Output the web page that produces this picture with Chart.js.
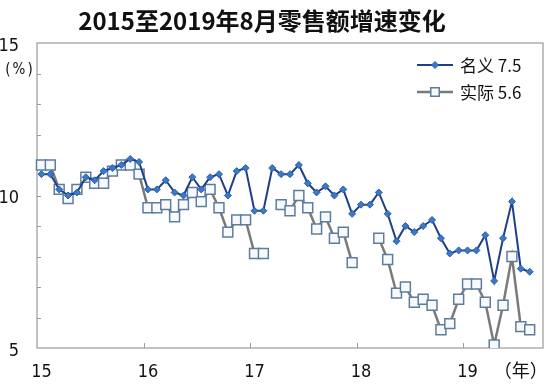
<!DOCTYPE html>
<html>
<head>
<meta charset="utf-8">
<script src="https://cdn.jsdelivr.net/npm/chart.js@4.4.1/dist/chart.umd.min.js"></script>
<style>
  html, body { margin: 0; padding: 0; background: #fff; }
</style>
</head>
<body>
<canvas id="retailChart" width="558" height="389"></canvas>
<script>
// month categories, Jan 2015 .. Sep 2019 (last one left empty)
var months = [
  '15-01','15-02','15-03','15-04','15-05','15-06','15-07','15-08','15-09','15-10','15-11','15-12',
  '16-01','16-02','16-03','16-04','16-05','16-06','16-07','16-08','16-09','16-10','16-11','16-12',
  '17-01','17-02','17-03','17-04','17-05','17-06','17-07','17-08','17-09','17-10','17-11','17-12',
  '18-01','18-02','18-03','18-04','18-05','18-06','18-07','18-08','18-09','18-10','18-11','18-12',
  '19-01','19-02','19-03','19-04','19-05','19-06','19-07','19-08','19-09'
];

// 名义 growth (%)
var nominal = [
  10.7, 10.7, 10.2, 10.0, 10.1, 10.6, 10.5, 10.8, 10.9, 11.0, 11.2, 11.1,
  10.2, 10.2, 10.5, 10.1, 10.0, 10.6, 10.2, 10.6, 10.7, 10.0, 10.8, 10.9,
  9.5, 9.5, 10.9, 10.7, 10.7, 11.0, 10.4, 10.1, 10.3, 10.0, 10.2, 9.4,
  9.7, 9.7, 10.1, 9.4, 8.5, 9.0, 8.8, 9.0, 9.2, 8.6, 8.1, 8.2,
  8.2, 8.2, 8.7, 7.2, 8.6, 9.8, 7.6, 7.5, null
];

// 实际 growth (%), gaps where no value is shown
var real = [
  11.0, 11.0, 10.2, 9.9, 10.2, 10.6, 10.4, 10.4, 10.8, 11.0, 11.0, 10.7,
  9.6, 9.6, 9.7, 9.3, 9.7, 10.1, 9.8, 10.2, 9.6, 8.8, 9.2, 9.2,
  8.1, 8.1, null, 9.7, 9.5, 10.0, 9.6, 8.9, 9.3, 8.6, 8.8, 7.8,
  null, null, 8.6, 7.9, 6.8, 7.0, 6.5, 6.6, 6.4, 5.6, 5.8, 6.6,
  7.1, 7.1, 6.5, 5.1, 6.4, 8.0, 5.7, 5.6, null
];

var seriesNames = ['名义 7.5', '实际 5.6'];
var yearLabels = ['15', '16', '17', '18', '19'];
var yearUnit = '（年）';
var unitIndex = 54;
var yLabels = [5, 10, 15];
var titleText = '2015至2019年8月零售额增速变化';

var numFont = "'Liberation Sans Narrow', 'DejaVu Sans Condensed', 'Noto Sans CJK SC', sans-serif";
var cjkFont = "'Noto Sans CJK SC', sans-serif";

var blueLine = '#1f3f88';
var bluePoint = '#3a78c8';
var grayLine = '#7a7a7a';
var squareEdge = '#5e7d9c';
var squareFill = '#f6f9fd';
var frameColor = '#9a9a9a';

// frame, inward ticks, title and legend
var decorations = {
  id: 'decorations',
  beforeDatasetsDraw: function (chart) {
    var ctx = chart.ctx;
    var area = chart.chartArea;
    var xs = chart.scales.x;
    var ys = chart.scales.y;
    ctx.save();
    ctx.strokeStyle = frameColor;
    ctx.lineWidth = 1.2;
    ctx.strokeRect(area.left, area.top, area.right - area.left, area.bottom - area.top);
    ctx.lineWidth = 1;
    for (var v = 6; v < 15; v++) {
      var y = Math.round(ys.getPixelForValue(v)) + 0.5;
      ctx.beginPath();
      ctx.moveTo(area.left, y);
      ctx.lineTo(area.left + 4, y);
      ctx.stroke();
    }
    for (var k = 1; k < yearLabels.length; k++) {
      var x = (xs.getPixelForValue(12 * k) + xs.getPixelForValue(12 * k - 1)) / 2;
      x = Math.round(x) + 0.5;
      ctx.beginPath();
      ctx.moveTo(x, area.bottom);
      ctx.lineTo(x, area.bottom - 5);
      ctx.stroke();
    }
    ctx.restore();
  },
  afterDraw: function (chart) {
    var ctx = chart.ctx;
    ctx.save();
    ctx.fillStyle = '#111';
    ctx.textBaseline = 'middle';
    ctx.textAlign = 'center';
    ctx.font = 'bold 24px ' + cjkFont;
    ctx.fillText(titleText, 262, 21);

    ctx.font = '15px ' + numFont;
    ctx.letterSpacing = '2px';
    ctx.fillText('(%)', 20, 70);
    ctx.letterSpacing = '0px';

    // legend
    var ds = chart.data.datasets;
    var rows = [65, 92];
    for (var i = 0; i < ds.length; i++) {
      var y = rows[i];
      ctx.strokeStyle = ds[i].borderColor;
      ctx.lineWidth = ds[i].borderWidth;
      ctx.beginPath();
      ctx.moveTo(417, y);
      ctx.lineTo(453, y);
      ctx.stroke();
      ctx.fillStyle = ds[i].pointBackgroundColor;
      ctx.strokeStyle = ds[i].pointBorderColor;
      ctx.lineWidth = ds[i].pointBorderWidth;
      Chart.helpers.drawPoint(ctx, {
        pointStyle: ds[i].pointStyle,
        radius: i === 0 ? 3.5 : 6,
        rotation: 0,
        borderWidth: ds[i].pointBorderWidth
      }, 435, y);
      ctx.fillStyle = '#111';
      ctx.textAlign = 'left';
      ctx.font = '17px ' + cjkFont;
      ctx.fillText(seriesNames[i], 460, y + 1);
    }
    ctx.restore();
  }
};

var retailChart = new Chart(document.getElementById('retailChart'), {
  type: 'line',
  data: {
    labels: months,
    datasets: [
      {
        label: seriesNames[0],
        data: nominal,
        borderColor: blueLine,
        borderWidth: 2,
        pointStyle: 'rectRot',
        pointRadius: 3.5,
        pointBackgroundColor: bluePoint,
        pointBorderColor: '#2b5fa8',
        pointBorderWidth: 1,
        tension: 0,
        spanGaps: false
      },
      {
        label: seriesNames[1],
        data: real,
        borderColor: grayLine,
        borderWidth: 2.5,
        pointStyle: 'rect',
        pointRadius: 7,
        pointBackgroundColor: squareFill,
        pointBorderColor: squareEdge,
        pointBorderWidth: 1.5,
        tension: 0,
        spanGaps: false
      }
    ]
  },
  options: {
    responsive: false,
    animation: false,
    devicePixelRatio: 1,
    layout: { padding: { top: 43, right: 15, left: 0, bottom: 0 } },
    plugins: {
      legend: { display: false },
      tooltip: { enabled: false },
      title: { display: false }
    },
    scales: {
      x: {
        type: 'category',
        offset: true,
        grid: { display: false },
        border: { display: false },
        ticks: {
          autoSkip: false,
          maxRotation: 0,
          minRotation: 0,
          padding: 6,
          color: '#111',
          font: { family: numFont, size: 18 },
          callback: function (value, index) {
            if (index % 12 === 0) return yearLabels[index / 12];
            if (index === unitIndex) return yearUnit;
            return '';
          }
        },
        afterFit: function (scale) { scale.height = 41; }
      },
      y: {
        min: 5,
        max: 15,
        grid: { display: false },
        border: { display: false },
        ticks: {
          stepSize: 1,
          padding: 10,
          labelOffset: 3,
          color: '#111',
          font: { family: numFont, size: 18 },
          callback: function (value) {
            return yLabels.indexOf(value) >= 0 ? String(value) : '';
          }
        },
        afterFit: function (scale) { scale.width = 37; }
      }
    }
  },
  plugins: [decorations]
});
</script>
</body>
</html>
